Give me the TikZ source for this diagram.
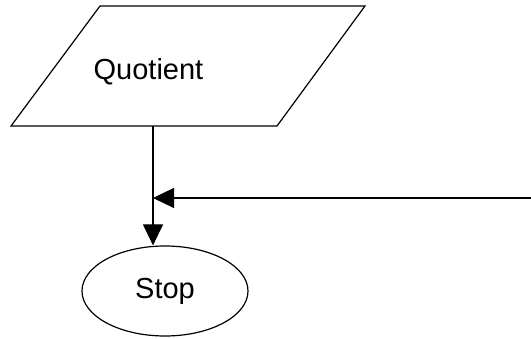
\documentclass[tikz,border=0pt]{standalone}
\usepackage{fontspec}
\setmainfont{Liberation Sans}
\usetikzlibrary{arrows.meta,shapes.geometric}
\begin{document}
\begin{tikzpicture}[x=1pt,y=-1pt,
  line width=1.2pt,
  lbl/.style={font=\fontsize{29}{35}\selectfont, inner sep=0pt},
  term/.style={draw, ellipse, minimum width=166pt, minimum height=90pt, inner sep=0pt, font=\fontsize{29}{35}\selectfont},
  conn/.style={-{Triangle[length=21pt,width=20pt]}}]
\useasboundingbox (0,0) rectangle (531,339);
% parallelogram (output)
\coordinate (p1) at (100,6);
\coordinate (p2) at (365,6);
\coordinate (p3) at (277,126);
\coordinate (p4) at (11,126);
\draw[line join=miter] (p1) -- (p2) -- (p3) -- (p4) -- cycle;
\node[lbl, anchor=base] (q) at (148.5,80) {Quotient};
\coordinate (qb) at (153,126);
% terminal
\node[term] (stop) at (165,291) {Stop};
% connectors
\coordinate (r) at (531,198);
\coordinate (j) at (153,198);
\draw[conn] (qb) -- (qb |- stop.north);
\draw[conn] (r) -- (j);
\end{tikzpicture}
\end{document}
